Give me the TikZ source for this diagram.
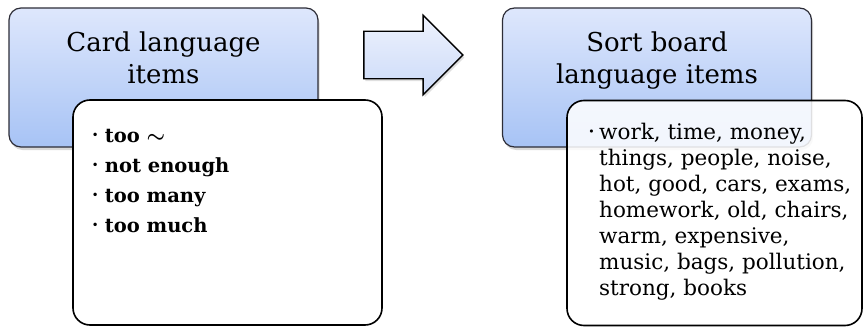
\documentclass[tikz,border=0pt]{standalone}
\usepackage{fontspec}
\setmainfont{DejaVu Serif}
\usetikzlibrary{positioning, shapes.arrows, shadows}

\definecolor{boxtop}{RGB}{222,231,252}
\definecolor{boxbottom}{RGB}{167,195,245}
\definecolor{arrowtop}{RGB}{238,242,253}
\definecolor{arrowbottom}{RGB}{203,218,248}
\definecolor{boxline}{RGB}{45,45,55}

\newcommand{\itemdot}{\makebox[0.65em][l]{\raisebox{0.2em}{\scalebox{0.5}{\textbullet}}}}

\begin{document}
\begin{tikzpicture}[x=1pt, y=-1pt,
  titlebox/.style={draw=boxline, line width=1.2pt, rounded corners=12pt, top color=boxtop, bottom color=boxbottom, minimum width=309pt, minimum height=139pt, outer sep=0pt, drop shadow={opacity=0.3, shadow xshift=1.5pt, shadow yshift=-3pt}},
  listbox/.style={draw=black, line width=1.6pt, rounded corners=17pt, fill=white, minimum height=225pt, outer sep=0pt},
  title/.style={align=center, inner sep=0pt, font=\fontsize{26}{32}\selectfont},
  items/.style={align=left, inner sep=0pt}]
\useasboundingbox (0,0) rectangle (864,329);

% the two heading boxes
\node[titlebox] (cardbox) at (163.5,77.5) {};
\node[titlebox] (sortbox) at (657,77.5) {};
\node[title, below=24pt of cardbox.north] (cardtitle) {Card language\\items};
\node[title, below=24pt of sortbox.north] (sorttitle) {Sort board\\language items};

% arrow between them
\node[single arrow, draw=black, line width=1.4pt, top color=arrowtop, bottom color=arrowbottom, minimum height=99pt, inner xsep=0pt, inner ysep=23pt, single arrow head extend=16pt, outer sep=0pt, drop shadow={opacity=0.25, shadow xshift=1.5pt, shadow yshift=-2.5pt}] (toboard) at (401.5,55) {};

% the word lists
\node[listbox, minimum width=309pt] (cardlist) at (227.5,212.5) {};
\node[listbox, minimum width=295pt, fill opacity=0.85] (sortlist) at (714.5,213) {};

\node[items, font=\fontsize{19.5}{30}\selectfont\bfseries, below right=21pt and 19pt of cardlist.north west] (cardwords) {\strut\itemdot too {\boldmath$\sim$}\\\itemdot not enough\\\itemdot too many\\\itemdot too much};
\node[items, font=\fontsize{21.5}{26}\selectfont, below right=21pt and 32pt of sortlist.north west] (sortwords) {\strut\llap{\makebox[0.5em][l]{\raisebox{0.2em}{\scalebox{0.5}{\textbullet}}}}work, time, money,\\things, people, noise,\\hot, good, cars, exams,\\homework, old, chairs,\\warm, expensive,\\music, bags, pollution,\\strong, books};
\end{tikzpicture}
\end{document}
